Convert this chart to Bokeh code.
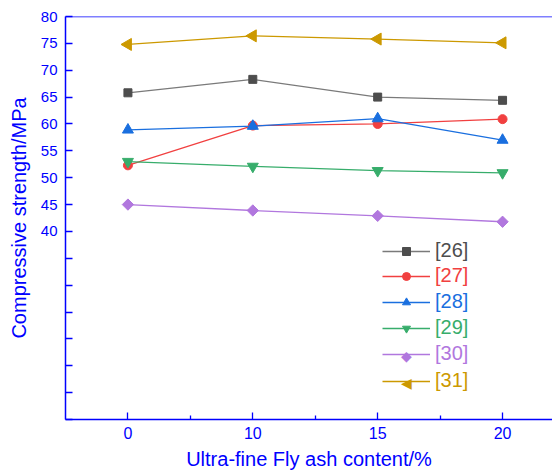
import math
from bokeh.plotting import figure
from bokeh.models import (Range1d, FixedTicker, Legend, LegendItem, Span, ColumnDataSource, Label)
from bokeh.embed import file_html
from bokeh.resources import INLINE

x_labels = ["0", "10", "15", "20"]
series_names = ["[26]", "[27]", "[28]", "[29]", "[30]", "[31]"]
s26 = [65.8, 68.3, 65.0, 64.4]
s27 = [52.3, 59.7, 60.0, 60.9]
s28 = [58.9, 59.6, 61.0, 57.0]
s29 = [53.0, 52.1, 51.3, 50.9]
s30 = [45.0, 43.9, 42.9, 41.8]
s31 = [74.8, 76.4, 75.8, 75.1]
y_ticks = [5, 10, 15, 20, 25, 30, 35, 40, 45, 50, 55, 60, 65, 70, 75, 80]
y_labelled = [40, 45, 50, 55, 60, 65, 70, 75, 80]

values = [s26, s27, s28, s29, s30, s31]
colors = ["#4d4d4d", "#f14040", "#1a6fdf", "#37ad6b", "#b177de", "#cc9900"]
line_colors = ["#7a7a7a", "#f14040", "#1a6fdf", "#37ad6b", "#b177de", "#cc9900"]
markers = ["square", "circle", "triangle", "inverted_triangle", "square", "triangle"]
angles = [0, 0, 0, 0, math.pi / 4, math.pi / 2]
sizes = [8, 9, 11, 11, 8, 12]
# legend marker drawn as text where bokeh's legend cannot rotate the marker
legend_symbols = [None, None, None, None, "\u25C6", "\u25C0"]

BLUE = "#0000ff"
FONT = "Liberation Sans"

p = figure(width=552, height=472, output_backend="svg", toolbar_location=None,
           x_range=Range1d(-0.5, 3.4), y_range=Range1d(5, 80),
           min_border_left=65, min_border_right=0, min_border_top=16, min_border_bottom=0)
p.grid.visible = False
p.outline_line_color = None
p.background_fill_color = "white"
p.border_fill_color = "white"

xs = list(range(len(x_labels)))
legends_items = []
for name, vals, c, lc, m, a, s, sym in zip(series_names, values, colors, line_colors,
                                          markers, angles, sizes, legend_symbols):
    src = ColumnDataSource(dict(x=xs, y=vals, ang=[a] * len(xs)))
    r1 = p.line("x", "y", source=src, line_color=lc, line_width=1.3)
    r2 = p.scatter("x", "y", source=src, marker=m, angle="ang", size=s,
                   fill_color=c, line_color=c)
    legends_items.append((name, c, [r1] if sym else [r1, r2], sym))

# axes
p.xaxis.ticker = FixedTicker(ticks=xs, minor_ticks=[0.5, 1.5, 2.5])
p.xaxis.major_label_overrides = {i: lab for i, lab in enumerate(x_labels)}
p.yaxis.ticker = FixedTicker(ticks=y_ticks)
p.yaxis.major_label_overrides = {t: (str(t) if t in y_labelled else "") for t in y_ticks}

for ax in (p.xaxis[0], p.yaxis[0]):
    ax.axis_line_color = BLUE
    ax.axis_line_width = 1.5
    ax.major_tick_line_color = BLUE
    ax.major_tick_line_width = 1.3
    ax.minor_tick_line_color = BLUE
    ax.minor_tick_line_width = 1.3
    ax.major_tick_in = 7
    ax.major_tick_out = 0
    ax.minor_tick_in = 4
    ax.minor_tick_out = 0
    ax.major_label_text_color = BLUE
    ax.major_label_text_font = FONT
    ax.axis_label_text_color = BLUE
    ax.axis_label_text_font = FONT
    ax.axis_label_text_font_size = "20px"
    ax.axis_label_text_font_style = "normal"

p.xaxis.major_label_text_font_size = "16px"
p.yaxis.major_label_text_font_size = "15px"
p.yaxis.minor_tick_line_color = None
p.xaxis.axis_label = "Ultra-fine Fly ash content/%"
p.yaxis.axis_label = "Compressive strength/MPa"
p.xaxis.major_label_standoff = 7
p.xaxis.axis_label_standoff = 6
p.yaxis.major_label_standoff = 8
p.yaxis.axis_label_standoff = 8

# top frame border
p.add_layout(Span(location=80, dimension="width", line_color=BLUE, line_width=1.5))

# legends, one per item so each label keeps its series colour
item_centers_px = [250, 275, 301, 327, 353, 380]  # page y of each legend row
frame_left_page = 65
frame_bottom_page = 417
for (name, c, rs, sym), yc in zip(legends_items, item_centers_px):
    lg = Legend(items=[LegendItem(label=name, renderers=rs)],
                location=(382 - frame_left_page, frame_bottom_page - (yc + 10)),
                glyph_width=48, glyph_height=20, label_height=20,
                label_standoff=5, padding=0, margin=0, spacing=0,
                border_line_color=None, background_fill_alpha=0,
                label_text_color=c, label_text_font=FONT,
                label_text_font_size="20px")
    p.add_layout(lg, "center")
    if sym:
        p.add_layout(Label(x=406 - frame_left_page, y=frame_bottom_page - yc,
                           x_units="screen", y_units="screen", text=sym,
                           text_color=c, text_font="DejaVu Sans", text_font_size="14px",
                           text_align="center", text_baseline="middle"))

open("out.html", "w").write(file_html(p, INLINE))
